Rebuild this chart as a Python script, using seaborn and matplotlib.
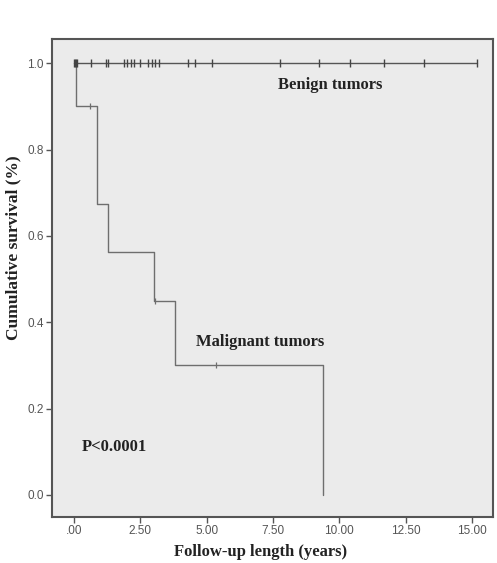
import numpy as np
import pandas as pd
import matplotlib
matplotlib.use("Agg")
import matplotlib.pyplot as plt
import seaborn as sns

# ---- data ----
mal_times = [0.0, 0.08, 0.86, 1.28, 3.0, 3.8, 9.4]
mal_surv = [1.0, 0.9, 0.675, 0.5625, 0.45, 0.30, 0.0]
mal_cens_t = [0.6, 3.05, 5.35]
mal_cens_s = [0.9, 0.45, 0.30]

ben_times = [0.0, 15.2]
ben_surv = [1.0, 1.0]
ben_cens_t = [0.0, 0.03, 0.07, 0.1, 0.63, 1.2, 1.28, 1.88, 2.0, 2.14, 2.26,
              2.49, 2.79, 2.93, 3.05, 3.2, 4.29, 4.55, 5.19, 7.78, 9.25,
              10.41, 11.69, 13.2, 15.2]
ben_cens_s = [1.0] * len(ben_cens_t)

x_ticks = [0, 2.5, 5, 7.5, 10, 12.5, 15]
x_ticklabels = [".00", "2.50", "5.00", "7.50", "10.00", "12.50", "15.00"]
y_ticks = [0.0, 0.2, 0.4, 0.6, 0.8, 1.0]
y_ticklabels = ["0.0", "0.2", "0.4", "0.6", "0.8", "1.0"]

sns.set_style("white")
plt.rcParams["font.family"] = ["Liberation Sans", "DejaVu Sans"]

fig = plt.figure(figsize=(4.97, 5.63), dpi=100)
ax = fig.add_axes([0.1046, 0.0817, 0.8874, 0.849])
ax.set_facecolor("#ebebeb")

line_color = "#6e6e6e"
mal = pd.DataFrame({"t": mal_times, "s": mal_surv})
ben = pd.DataFrame({"t": ben_times, "s": ben_surv})
sns.lineplot(data=mal, x="t", y="s", drawstyle="steps-post", color=line_color,
             linewidth=1.0, ax=ax, estimator=None, sort=False)
sns.lineplot(data=ben, x="t", y="s", drawstyle="steps-post", color="#555555",
             linewidth=1.0, ax=ax, estimator=None, sort=False)
ax.scatter(mal_cens_t, mal_cens_s, marker="|", s=22, color=line_color, linewidths=0.9, zorder=3)
ax.scatter(ben_cens_t, ben_cens_s, marker="|", s=26, color="#444444", linewidths=1.0, zorder=3)

ax.set_xlim(-0.83, 15.8)
ax.set_ylim(-0.051, 1.056)
ax.set_xticks(x_ticks)
ax.set_xticklabels(x_ticklabels)
ax.set_yticks(y_ticks)
ax.set_yticklabels(y_ticklabels)
ax.tick_params(axis="both", which="major", length=4, width=1.0, color="#555555",
               labelsize=8.5, labelcolor="#555555", direction="out", pad=2,
               bottom=True, left=True)
for sp in ax.spines.values():
    sp.set_color("#555555")
    sp.set_linewidth(1.5)

serif = ["Liberation Serif", "DejaVu Serif"]
ax.set_xlabel("Follow-up length (years)", fontsize=12, fontweight="bold",
              family=serif, color="#222222")
ax.set_ylabel("Cumulative survival (%)", fontsize=12.5, fontweight="bold",
              family=serif, color="#222222")
ax.xaxis.set_label_coords(0.472, -0.056)
ax.yaxis.set_label_coords(-0.07, 0.563)

ax.text(9.66, 0.949, "Benign tumors", fontsize=12, fontweight="bold",
        family=serif, color="#222222", ha="center", va="center")
ax.text(7.0, 0.354, "Malignant tumors", fontsize=12, fontweight="bold",
        family=serif, color="#222222", ha="center", va="center")
ax.text(1.53, 0.111, "P<0.0001", fontsize=12, fontweight="bold",
        family=serif, color="#222222", ha="center", va="center")

fig.savefig("out.png", dpi=100, facecolor="white")
